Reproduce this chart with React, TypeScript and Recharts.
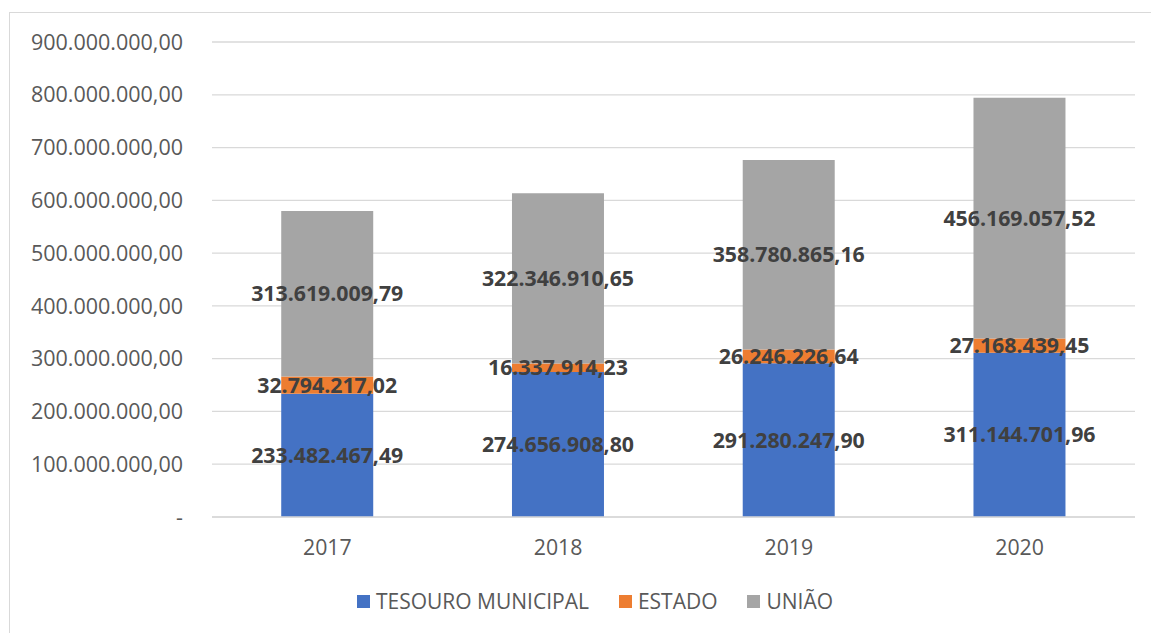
import { Bar, BarChart, CartesianGrid, LabelList, XAxis, YAxis } from "recharts";

const years = ["2017", "2018", "2019", "2020"];
const tesouroMunicipal = [233482467.49, 274656908.8, 291280247.9, 311144701.96];
const estado = [32794217.02, 16337914.23, 26246226.64, 27168439.45];
const uniao = [313619009.79, 322346910.65, 358780865.16, 456169057.52];
const yTicks = [0, 100000000, 200000000, 300000000, 400000000, 500000000, 600000000, 700000000, 800000000, 900000000];

const series = [
  { key: "tesouro", name: "TESOURO MUNICIPAL", color: "#4472C4" },
  { key: "estado", name: "ESTADO", color: "#ED7D31" },
  { key: "uniao", name: "UNIÃO", color: "#A5A5A5" },
];

const data = years.map((year, i) => ({
  year,
  tesouro: tesouroMunicipal[i],
  estado: estado[i],
  uniao: uniao[i],
}));

const FONT = "'Open Sans', sans-serif";

// pt-BR style: 233.482.467,49
function brl(v: number) {
  const [int, dec] = v.toFixed(2).split(".");
  return int.replace(/\B(?=(\d{3})+(?!\d))/g, ".") + "," + dec;
}

function axisLabel(v: number) {
  return v === 0 ? "-" : brl(v);
}

function LegendRow() {
  return (
    <div
      style={{
        position: "absolute",
        left: 0,
        top: 586,
        width: 1190,
        display: "flex",
        justifyContent: "center",
        gap: 30,
        fontFamily: FONT,
        fontSize: 21,
        lineHeight: "30px",
        color: "#595959",
      }}
    >
      {series.map((s) => (
        <div key={s.key} style={{ display: "flex", alignItems: "center", gap: 6 }}>
          <span style={{ width: 13, height: 13, background: s.color, display: "inline-block" }} />
          <span>{s.name}</span>
        </div>
      ))}
    </div>
  );
}

export default function App() {
  return (
    <div style={{ position: "absolute", left: 0, top: 0, width: 1151, height: 633, overflow: "hidden", background: "#fff" }}>
      <div
        style={{
          position: "absolute",
          left: 9,
          top: 12,
          width: 1142,
          height: 621,
          borderLeft: "1px solid #d9d9d9",
          borderTop: "1px solid #d9d9d9",
        }}
      />
      <BarChart
        width={1151}
        height={633}
        data={data}
        margin={{ top: 42, right: 16, bottom: 86, left: 0 }}
        barCategoryGap="30%"
        style={{ position: "absolute", left: 0, top: 0 }}
      >
        <CartesianGrid vertical={false} stroke="#d9d9d9" strokeWidth={1.3} />
        <XAxis
          dataKey="year"
          height={30}
          axisLine={{ stroke: "#d9d9d9", strokeWidth: 1.3 }}
          tickLine={false}
          tickSize={0}
          tickMargin={23}
          tick={{ fontSize: 21.3, fontFamily: FONT, fill: "#595959" }}
        />
        <YAxis
          width={212}
          domain={[0, 900000000]}
          ticks={yTicks}
          interval={0}
          axisLine={false}
          tickLine={false}
          tickSize={0}
          tickMargin={29}
          tickFormatter={axisLabel}
          tick={{ fontSize: 21.5, fontFamily: FONT, fill: "#595959" }}
        />
        {series.map((s) => (
          <Bar key={s.key} dataKey={s.key} name={s.name} stackId="a" fill={s.color} isAnimationActive={false}>
            <LabelList
              dataKey={s.key}
              position="center"
              formatter={(v: number) => brl(v)}
              style={{ fontSize: 21.3, fontFamily: FONT, fontWeight: 700, fill: "#404040" }}
            />
          </Bar>
        ))}
      </BarChart>
      <LegendRow />
    </div>
  );
}
